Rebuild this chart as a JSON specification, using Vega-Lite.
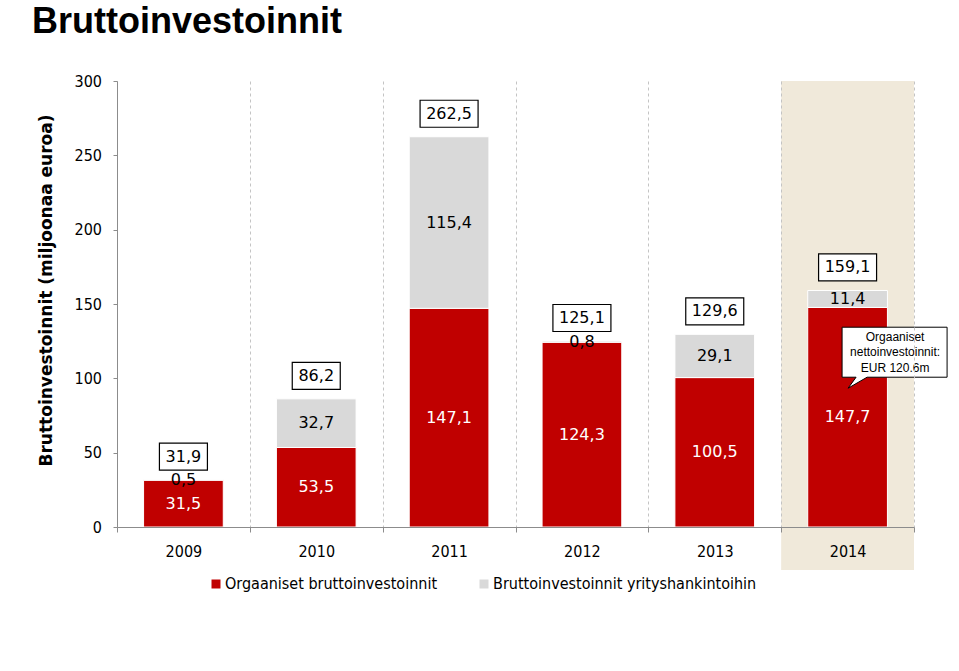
{
  "$schema": "https://vega.github.io/schema/vega-lite/v6.json",
  "autosize": "none",
  "width": 797,
  "height": 446,
  "padding": {"left": 117, "top": 81, "right": 45, "bottom": 144},
  "background": "white",
  "config": {
    "locale": {"number": {"decimal": ",", "thousands": " ", "grouping": [3], "currency": ["", " €"]}},
    "view": {"stroke": null},
    "font": "DejaVu Sans"
  },
  "title": {
    "text": "Bruttoinvestoinnit",
    "anchor": "start",
    "frame": "group",
    "font": "Liberation Sans",
    "fontSize": 36,
    "fontWeight": "bold",
    "color": "black",
    "dx": -85,
    "offset": 32
  },
  "datasets": {
    "inv": [
      {"year": "2009", "series": "Orgaaniset bruttoinvestoinnit", "value": 31.5},
      {"year": "2009", "series": "Bruttoinvestoinnit yrityshankintoihin", "value": 0.5},
      {"year": "2010", "series": "Orgaaniset bruttoinvestoinnit", "value": 53.5},
      {"year": "2010", "series": "Bruttoinvestoinnit yrityshankintoihin", "value": 32.7},
      {"year": "2011", "series": "Orgaaniset bruttoinvestoinnit", "value": 147.1},
      {"year": "2011", "series": "Bruttoinvestoinnit yrityshankintoihin", "value": 115.4},
      {"year": "2012", "series": "Orgaaniset bruttoinvestoinnit", "value": 124.3},
      {"year": "2012", "series": "Bruttoinvestoinnit yrityshankintoihin", "value": 0.8},
      {"year": "2013", "series": "Orgaaniset bruttoinvestoinnit", "value": 100.5},
      {"year": "2013", "series": "Bruttoinvestoinnit yrityshankintoihin", "value": 29.1},
      {"year": "2014", "series": "Orgaaniset bruttoinvestoinnit", "value": 147.7},
      {"year": "2014", "series": "Bruttoinvestoinnit yrityshankintoihin", "value": 11.4}
    ],
    "totals": [
      {"year": "2009", "total": 31.9},
      {"year": "2010", "total": 86.2},
      {"year": "2011", "total": 262.5},
      {"year": "2012", "total": 125.1},
      {"year": "2013", "total": 129.6},
      {"year": "2014", "total": 159.1}
    ],
    "note": [
      {"year": "2014", "net": 120.6, "note": ["Orgaaniset", "nettoinvestoinnit:", "EUR 120.6m"]}
    ]
  },
  "encoding": {
    "x": {
      "field": "year",
      "type": "nominal",
      "scale": {"domain": ["2009", "2010", "2011", "2012", "2013", "2014"], "paddingInner": 0, "paddingOuter": 0},
      "axis": {
        "title": null,
        "tickBand": "extent",
        "grid": true,
        "gridDash": [3, 3],
        "gridColor": "#c4c4c4",
        "domainColor": "#8c8c8c",
        "tickColor": "#8c8c8c",
        "tickSize": 5,
        "labelAngle": 0,
        "labelFont": "DejaVu Sans Condensed",
        "labelFontSize": 16,
        "labelColor": "black",
        "labelBaseline": "alphabetic",
        "labelPadding": 24,
        "zindex": 1
      }
    }
  },
  "layer": [
    {
      "data": {"values": [{"year": "2014"}]},
      "mark": {"type": "rect", "color": "#F0E9DA"},
      "encoding": {
        "y": {"datum": 300, "type": "quantitative"},
        "y2": {"datum": -29}
      }
    },
    {
      "data": {"name": "inv"},
      "transform": [
        {"stack": "value", "groupby": ["year"], "sort": [{"field": "series", "order": "descending"}], "as": ["v0", "v1"]}
      ],
      "mark": {"type": "bar", "width": {"band": 0.6}, "stroke": "white", "strokeWidth": 1},
      "encoding": {
        "y": {
          "field": "v0",
          "type": "quantitative",
          "scale": {"domain": [0, 300], "nice": false},
          "axis": {
            "title": "Bruttoinvestoinnit (miljoonaa euroa)",
            "values": [0, 50, 100, 150, 200, 250, 300],
            "grid": false,
            "tickSize": 4,
            "tickColor": "#8c8c8c",
            "domainColor": "#8c8c8c",
            "labelPadding": 11.5,
            "labelFont": "DejaVu Sans Condensed",
            "labelFontSize": 16,
            "labelColor": "black",
            "titleFont": "DejaVu Sans",
            "titleFontWeight": "bold",
            "titleFontSize": 17,
            "titleColor": "black",
            "titleX": -66,
            "titleY": 209,
            "titleAngle": 270,
            "titleAlign": "center",
            "titleBaseline": "alphabetic",
            "zindex": 1
          }
        },
        "y2": {"field": "v1"},
        "color": {
          "field": "series",
          "type": "nominal",
          "scale": {
            "domain": ["Orgaaniset bruttoinvestoinnit", "Bruttoinvestoinnit yrityshankintoihin"],
            "range": ["#C00000", "#D9D9D9"]
          },
          "legend": {
            "orient": "none",
            "legendX": 91,
            "legendY": 495,
            "direction": "horizontal",
            "title": null,
            "symbolType": "square",
            "symbolSize": 81,
            "symbolStrokeWidth": 0,
            "labelFont": "DejaVu Sans Condensed",
            "labelFontSize": 16,
            "labelColor": "black",
            "labelLimit": 400,
            "columnPadding": 38,
            "labelOffset": 1,
            "padding": 0
          }
        }
      }
    },
    {
      "data": {"name": "inv"},
      "transform": [
        {"stack": "value", "groupby": ["year"], "sort": [{"field": "series", "order": "descending"}], "as": ["v0", "v1"]},
        {"calculate": "(datum.v0 + datum.v1) / 2", "as": "mid"}
      ],
      "mark": {"type": "text", "fontSize": 16, "font": "DejaVu Sans", "baseline": "middle"},
      "encoding": {
        "y": {"field": "mid", "type": "quantitative"},
        "text": {"field": "value", "type": "quantitative", "format": ".1f"},
        "color": {
          "condition": {"test": "datum.series === 'Orgaaniset bruttoinvestoinnit'", "value": "white"},
          "value": "black"
        }
      }
    },
    {
      "data": {"name": "totals"},
      "transform": [{"filter": "datum.total < 100"}],
      "mark": {"type": "point", "shape": "M-24,-13.5H24V13.5H-24Z", "size": 4, "filled": true, "fill": "white", "stroke": "black", "strokeWidth": 1.2, "opacity": 1, "yOffset": -23},
      "encoding": {"y": {"field": "total", "type": "quantitative"}}
    },
    {
      "data": {"name": "totals"},
      "transform": [{"filter": "datum.total >= 100"}],
      "mark": {"type": "point", "shape": "M-29,-13.5H29V13.5H-29Z", "size": 4, "filled": true, "fill": "white", "stroke": "black", "strokeWidth": 1.2, "opacity": 1, "yOffset": -23},
      "encoding": {"y": {"field": "total", "type": "quantitative"}}
    },
    {
      "data": {"name": "totals"},
      "mark": {"type": "text", "fontSize": 16, "font": "DejaVu Sans", "baseline": "middle", "color": "black", "yOffset": -23},
      "encoding": {
        "y": {"field": "total", "type": "quantitative"},
        "text": {"field": "total", "type": "quantitative", "format": ".1f"}
      }
    },
    {
      "data": {"name": "note"},
      "mark": {"type": "point", "shape": "M-53,-25H52V25H-28L-47,36L-39,25H-53Z", "size": 4, "filled": true, "fill": "white", "stroke": "black", "strokeWidth": 1, "opacity": 1, "xOffset": 47.5, "yOffset": 4.5},
      "encoding": {"y": {"field": "net", "type": "quantitative"}}
    },
    {
      "data": {"name": "note"},
      "mark": {"type": "text", "font": "Liberation Sans", "fontSize": 12, "lineHeight": 15.5, "baseline": "middle", "align": "center", "color": "black", "xOffset": 47.5, "yOffset": -11},
      "encoding": {
        "y": {"field": "net", "type": "quantitative"},
        "text": {"field": "note"}
      }
    }
  ]
}
